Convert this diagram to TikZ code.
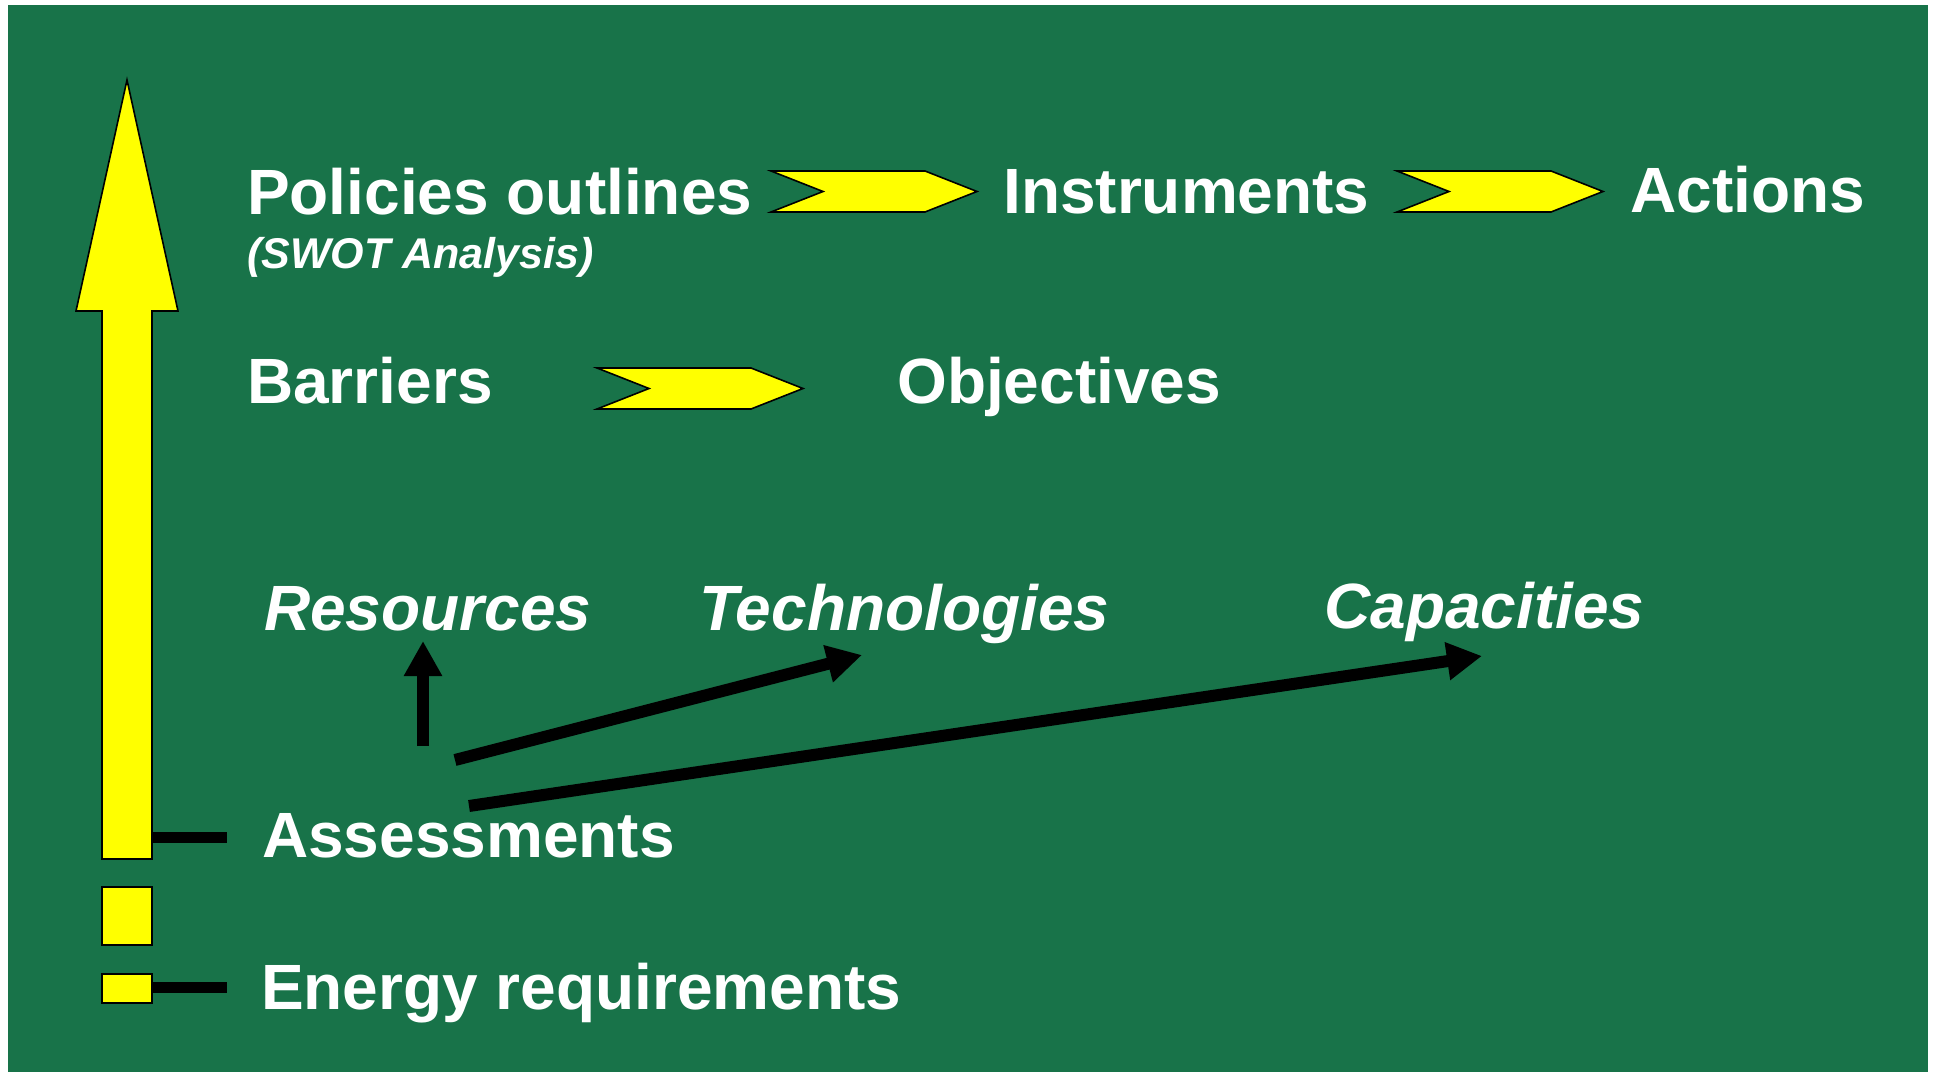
\documentclass[tikz,border=0pt]{standalone}
\usepackage{fontspec}
\setmainfont{Liberation Sans}
\usetikzlibrary{arrows.meta}
\definecolor{boardgreen}{RGB}{24,115,73}
\definecolor{markyellow}{RGB}{255,255,0}
\begin{document}
\begin{tikzpicture}[x=1pt,y=-1pt,
  heading/.style={text=white,inner sep=0pt,anchor=base west,
    font=\fontsize{64}{64}\selectfont\bfseries},
  topic/.style={heading,font=\fontsize{64}{64}\selectfont\bfseries\itshape},
  note/.style={heading,font=\fontsize{43}{43}\selectfont\bfseries\itshape},
  yellowshape/.style={fill=markyellow,draw=black,line width=1.6pt,line join=miter},
  tick/.style={draw=black,line width=11pt},
  link/.style={draw=black,line width=12pt,-{Triangle[length=35pt,width=36pt]}},
  chevron/.pic={
    \path[yellowshape] (0,0) -- (154,0) -- (206,20.5) -- (154,41) -- (0,41) -- (52,20.5) -- cycle;
  }]
  % page and board
  \useasboundingbox (0,0) rectangle (1937,1075);
  \fill[white] (0,0) rectangle (1937,1075);
  \fill[boardgreen] (8,5) rectangle (1928,1072);

  % rising yellow arrow with its base blocks
  \path[yellowshape] (127,80) -- (178,311) -- (152,311) -- (152,859)
     -- (102,859) -- (102,311) -- (76,311) -- cycle;
  \path[yellowshape] (102,887) rectangle (152,945);
  \path[yellowshape] (102,974) rectangle (152,1003);
  \coordinate (assessTickA) at (152,837);
  \coordinate (assessTickB) at (227,837);
  \coordinate (energyTickA) at (152,987);
  \coordinate (energyTickB) at (227,987);
  \draw[tick] (assessTickA) -- (assessTickB);
  \draw[tick] (energyTickA) -- (energyTickB);

  % upper rows
  \node[heading] (policies) at (247,215) {Policies outlines};
  \node[note] (swot) at (247,269) {(SWOT Analysis)};
  \node[heading] (instruments) at (1003,214) {Instruments};
  \node[heading] (actions) at (1630,213) {Actions};
  \pic (chevA) at (771,171) {chevron};
  \pic (chevB) at (1397,171) {chevron};

  \node[heading] (barriers) at (247,403) {Barriers};
  \node[heading] (objectives) at (897,403) {Objectives};
  \pic (chevC) at (597,368) {chevron};

  % assessment topics
  \node[topic] (resources) at (264,630) {Resources};
  \node[topic] (technologies) at (699,630) {Technologies};
  \node[topic] (capacities) at (1324,628) {Capacities};

  % lower rows
  \node[heading] (assessments) at (262,857) {Assessments};
  \node[heading] (energy) at (261,1009) {Energy requirements};

  % links from the assessments to the topics
  \coordinate (resFoot) at (423,746);
  \coordinate (resHead) at (423,641);
  \coordinate (techFoot) at (455,760);
  \coordinate (techHead) at (862,655);
  \coordinate (capFoot) at (469,806);
  \coordinate (capHead) at (1482,656);
  \draw[link] (resFoot) -- (resHead);
  \draw[link] (techFoot) -- (techHead);
  \draw[link] (capFoot) -- (capHead);
\end{tikzpicture}
\end{document}
